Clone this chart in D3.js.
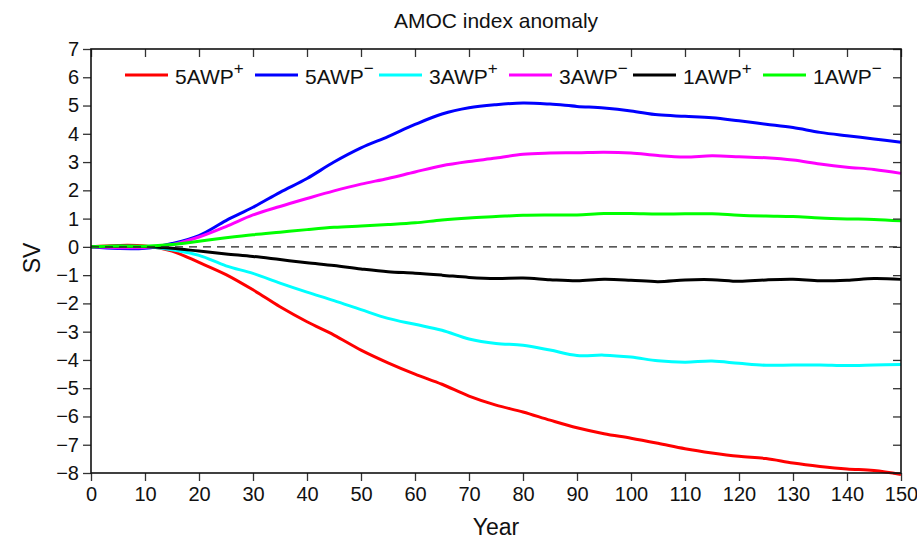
<!DOCTYPE html>
<html>
<head>
<meta charset="utf-8">
<script src="https://cdn.jsdelivr.net/npm/d3@7"></script>
<style>
  body { margin: 0; background: #fff; }
  svg text { font-family: "Liberation Sans", Arial, Helvetica, sans-serif; fill: #111; }
</style>
</head>
<body>
<div id="chart"></div>
<script>
// years sampled every 5
const years = d3.range(0, 151, 5);

const awp5plus  = [0, 0.05, 0.03, -0.15, -0.55, -0.98, -1.52, -2.12, -2.65, -3.12, -3.65, -4.1, -4.5, -4.86, -5.28, -5.6, -5.84, -6.13, -6.4, -6.61, -6.77, -6.95, -7.14, -7.29, -7.41, -7.49, -7.65, -7.77, -7.86, -7.91, -8.05];
const awp5minus = [0, -0.06, -0.05, 0.12, 0.4, 0.93, 1.4, 1.93, 2.42, 3.0, 3.5, 3.9, 4.33, 4.7, 4.92, 5.03, 5.09, 5.05, 4.97, 4.91, 4.81, 4.67, 4.62, 4.57, 4.46, 4.34, 4.22, 4.05, 3.93, 3.82, 3.7];
const awp3plus  = [0, 0.02, 0.01, -0.1, -0.3, -0.67, -0.94, -1.28, -1.6, -1.9, -2.22, -2.53, -2.74, -2.95, -3.26, -3.42, -3.48, -3.65, -3.84, -3.83, -3.9, -4.03, -4.08, -4.04, -4.12, -4.19, -4.18, -4.18, -4.2, -4.18, -4.16];
const awp3minus = [0, -0.03, -0.02, 0.08, 0.35, 0.72, 1.13, 1.43, 1.71, 1.98, 2.22, 2.42, 2.65, 2.87, 3.02, 3.14, 3.28, 3.32, 3.33, 3.35, 3.32, 3.23, 3.18, 3.22, 3.19, 3.15, 3.07, 2.93, 2.82, 2.74, 2.6];
const awp1plus  = [0, 0.02, 0.01, -0.05, -0.15, -0.25, -0.34, -0.45, -0.56, -0.66, -0.78, -0.88, -0.93, -1.0, -1.08, -1.12, -1.1, -1.16, -1.2, -1.15, -1.18, -1.23, -1.17, -1.16, -1.22, -1.17, -1.15, -1.2, -1.18, -1.12, -1.15];
const awp1minus = [0, 0.03, 0.02, 0.08, 0.2, 0.32, 0.43, 0.52, 0.61, 0.69, 0.74, 0.79, 0.85, 0.95, 1.02, 1.07, 1.12, 1.13, 1.13, 1.18, 1.18, 1.16, 1.17, 1.17, 1.12, 1.09, 1.07, 1.02, 0.99, 0.97, 0.92];

const seriesNames = ['5AWP', '5AWP', '3AWP', '3AWP', '1AWP', '1AWP'];
const seriesSigns = ['+', '\u2212', '+', '\u2212', '+', '\u2212'];
const seriesColors = ['#ff0000', '#0000ff', '#00ffff', '#ff00ff', '#000000', '#00ff00'];
const seriesValues = [awp5plus, awp5minus, awp3plus, awp3minus, awp1plus, awp1minus];

const xTicks = d3.range(0, 151, 10);
const yTicks = d3.range(-8, 8, 1);

const W = 917, H = 540;
const m = { left: 91, right: 901, top: 49, bottom: 473 };

const svg = d3.select('#chart')
              .append('svg')
              .attr('width', W)
              .attr('height', H);

const x = d3.scaleLinear().domain([0, 150]).range([m.left, m.right]);
const y = d3.scaleLinear().domain([-8, 7]).range([m.bottom, m.top]);

// series
const line = d3.line()
               .x((d, i) => x(years[i]))
               .y(d => y(d))
               .curve(d3.curveCatmullRom);

seriesValues.forEach((vals, k) => {
  svg.append('path')
     .datum(vals)
     .attr('fill', 'none')
     .attr('stroke', seriesColors[k])
     .attr('stroke-width', 3)
     .attr('stroke-linejoin', 'round')
     .attr('d', line);
});

// zero line
svg.append('line')
   .attr('x1', x(0)).attr('x2', x(150))
   .attr('y1', y(0)).attr('y2', y(0))
   .attr('stroke', '#222')
   .attr('stroke-width', 1.3)
   .attr('stroke-dasharray', '8,6');

// axes
const tickStyle = g => {
  g.selectAll('.domain').remove();
  g.selectAll('.tick line').attr('stroke', '#333').attr('stroke-width', 1.3);
  g.selectAll('.tick text').style('font-size', '20px').attr('fill', '#111');
};

svg.append('g')
   .attr('transform', `translate(0, ${m.bottom})`)
   .call(d3.axisBottom(x).tickValues(xTicks).tickSize(8).tickPadding(6))
   .call(tickStyle);

svg.append('g')
   .attr('transform', `translate(${m.left}, 0)`)
   .call(d3.axisLeft(y).tickValues(yTicks).tickSize(8).tickPadding(4)
           .tickFormat(d => d < 0 ? '\u2212' + Math.abs(d) : d))
   .call(tickStyle);

svg.append('g')
   .attr('transform', `translate(0, ${m.top})`)
   .call(d3.axisBottom(x).tickValues(xTicks).tickSize(8).tickFormat(''))
   .call(tickStyle);

svg.append('g')
   .attr('transform', `translate(${m.right}, 0)`)
   .call(d3.axisRight(y).tickValues(yTicks).tickSize(-8).tickFormat(''))
   .call(tickStyle);

svg.append('rect')
   .attr('x', m.left).attr('y', m.top)
   .attr('width', m.right - m.left).attr('height', m.bottom - m.top)
   .attr('fill', 'none')
   .attr('stroke', '#111')
   .attr('stroke-width', 1.6);

// labels
svg.append('text')
   .attr('x', (m.left + m.right) / 2).attr('y', 28)
   .attr('text-anchor', 'middle')
   .style('font-size', '21px')
   .text('AMOC index anomaly');

svg.append('text')
   .attr('x', (m.left + m.right) / 2).attr('y', 535)
   .attr('text-anchor', 'middle')
   .style('font-size', '23px')
   .text('Year');

svg.append('text')
   .attr('transform', `translate(40, ${(m.top + m.bottom) / 2 - 3}) rotate(-90)`)
   .attr('text-anchor', 'middle')
   .style('font-size', '23px')
   .text('SV');

// legend
const legendX = [125, 255, 379, 509, 633, 763];
const legendY = 75;

seriesNames.forEach((name, k) => {
  const g = svg.append('g').attr('transform', `translate(${legendX[k]}, ${legendY})`);
  g.append('line')
   .attr('x1', 0).attr('x2', 43)
   .attr('y1', 0).attr('y2', 0)
   .attr('stroke', seriesColors[k])
   .attr('stroke-width', 3);
  const t = g.append('text')
             .attr('x', 50).attr('y', 9)
             .style('font-size', '21px')
             .text(name);
  t.append('tspan')
   .attr('dy', -10)
   .style('font-size', '17px')
   .text(seriesSigns[k]);
});
</script>
</body>
</html>
